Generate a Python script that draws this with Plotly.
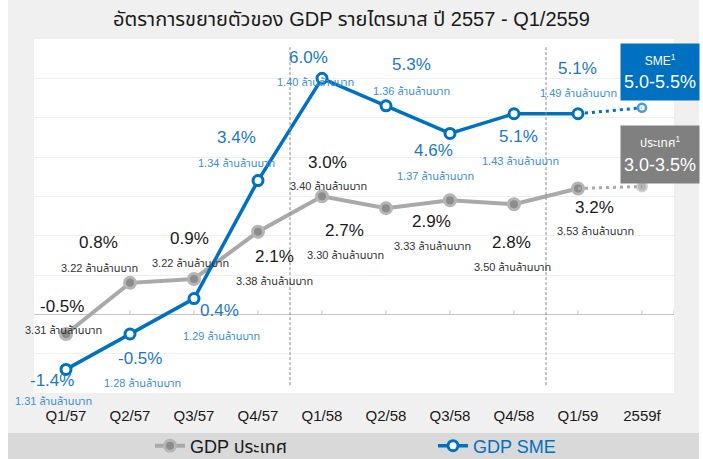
import plotly.graph_objects as go

# ---------------- data ----------------
categories = ["Q1/57", "Q2/57", "Q3/57", "Q4/57", "Q1/58", "Q2/58", "Q3/58", "Q4/58", "Q1/59", "2559f"]
sme_growth = [-1.4, -0.5, 0.4, 3.4, 6.0, 5.3, 4.6, 5.1, 5.1]
sme_value = [1.31, 1.28, 1.29, 1.34, 1.40, 1.36, 1.37, 1.43, 1.49]
gdp_growth = [-0.5, 0.8, 0.9, 2.1, 3.0, 2.7, 2.9, 2.8, 3.2]
gdp_value = [3.31, 3.22, 3.22, 3.38, 3.40, 3.30, 3.33, 3.50, 3.53]
sme_forecast = 5.25
gdp_forecast = 3.25
sme_forecast_label = "5.0-5.5%"
gdp_forecast_label = "3.0-3.5%"
unit = "ล้านล้านบาท"
title = "อัตราการขยายตัวของ GDP รายไตรมาส ปี 2557 - Q1/2559"
name_gdp = "GDP ประเทศ"
name_sme = "GDP SME"

# ---------------- styles / label offsets (pixels) ----------------
BLUE = "#0070c0"
BLUE_TXT = "#1b78c4"
BLUE_SUB = "#3a8fd4"
GRAY = "#a9a9a9"
FONT = "'Liberation Sans', Arial, 'Noto Sans Thai', sans-serif"

sme_pct_off = [(-14, -11), (10, -24), (25, -12), (-22, 43), (-14, 21), (25, 41), (-17, -17), (4, -23), (-1, 45)]
sme_sub_off = [(-13, -32), (12, -49), (27, -37), (-22, 18), (-7, -4), (25, 15), (-15, -43), (6, -47), (0, 21)]
gdp_pct_off = [(-4, 28), (-32, 40), (-5, 40), (16, -25), (5, 34), (-42, -22), (-19, -21), (-3, -38), (16, -19)]
gdp_sub_off = [(-3, 4), (-31, 15), (-4, 16), (16, -49), (6, 10), (-41, -47), (-18, -46), (-2, -63), (17, -43)]

W, H = 703, 459
ML, MR, MT, MB = 34, 29, 39, 66
PW, PH = W - ML - MR, H - MT - MB


def px(xp):
    return (xp - ML) / PW


def py(yp):
    return (H - MB - yp) / PH


fig = go.Figure()

n = len(sme_growth)
# GDP country
fig.add_trace(go.Scatter(
    x=categories[:n], y=gdp_growth, mode="lines+markers", name=name_gdp, legend="legend",
    line=dict(color=GRAY, width=4),
    marker=dict(size=11, color="#8c8c8c", line=dict(color="#b5b5b5", width=3)),
    cliponaxis=False,
))
fig.add_trace(go.Scatter(
    x=[categories[n - 1], categories[n]], y=[gdp_growth[-1], gdp_forecast], mode="lines+markers",
    line=dict(color=GRAY, width=3, dash="3px,4px"),
    marker=dict(size=[0, 10], color="#9a9a9a", line=dict(color="#c0c0c0", width=2)),
    showlegend=False, cliponaxis=False,
))
# SME
fig.add_trace(go.Scatter(
    x=[categories[n - 1], categories[n]], y=[sme_growth[-1], sme_forecast], mode="lines+markers",
    line=dict(color=BLUE, width=3, dash="3px,4px"),
    marker=dict(size=[0, 8], color="white", line=dict(color=BLUE, width=2.5)),
    showlegend=False, cliponaxis=False,
))
fig.add_trace(go.Scatter(
    x=categories[:n], y=sme_growth, mode="lines+markers", name=name_sme, legend="legend2",
    line=dict(color=BLUE, width=3.5),
    marker=dict(size=10, color="white", line=dict(color=BLUE, width=3)),
    cliponaxis=False,
))

ann = []
for i in range(n):
    ann.append(dict(x=categories[i], y=sme_growth[i], xshift=sme_pct_off[i][0], yshift=sme_pct_off[i][1],
                    text="%.1f%%" % sme_growth[i], showarrow=False,
                    font=dict(size=17, color=BLUE_TXT, family=FONT)))
    ann.append(dict(x=categories[i], y=sme_growth[i], xshift=sme_sub_off[i][0], yshift=sme_sub_off[i][1],
                    text="%.2f %s" % (sme_value[i], unit), showarrow=False,
                    font=dict(size=11, color=BLUE_SUB, family=FONT)))
    ann.append(dict(x=categories[i], y=gdp_growth[i], xshift=gdp_pct_off[i][0], yshift=gdp_pct_off[i][1],
                    text="%.1f%%" % gdp_growth[i], showarrow=False,
                    font=dict(size=17, color="#1a1a1a", family=FONT)))
    ann.append(dict(x=categories[i], y=gdp_growth[i], xshift=gdp_sub_off[i][0], yshift=gdp_sub_off[i][1],
                    text="%.2f %s" % (gdp_value[i], unit), showarrow=False,
                    font=dict(size=11, color="#333333", family=FONT)))

# forecast boxes
ann.append(dict(x=categories[n], y=sme_forecast, xshift=18, yshift=36, showarrow=False,
                width=78, height=56, bgcolor=BLUE, borderpad=0,
                text="<span style='font-size:12px'>SME<sup>1</sup></span><br>" + sme_forecast_label,
                font=dict(size=18, color="white", family=FONT)))
ann.append(dict(x=categories[n], y=gdp_forecast, xshift=18, yshift=32, showarrow=False,
                width=78, height=57, bgcolor="#808080", borderpad=0,
                text="<span style='font-size:12px'>ประเทศ<sup>1</sup></span><br>" + gdp_forecast_label,
                font=dict(size=18, color="white", family=FONT)))

shapes = [
    # white border strips
    dict(type="rect", xref="paper", yref="paper", x0=px(0), x1=px(8), y0=py(H), y1=py(0),
         fillcolor="white", line=dict(width=0), layer="below"),
    dict(type="rect", xref="paper", yref="paper", x0=px(699), x1=px(W), y0=py(H), y1=py(0),
         fillcolor="white", line=dict(width=0), layer="below"),
    # legend band
    dict(type="rect", xref="paper", yref="paper", x0=px(8), x1=px(699), y0=py(H), y1=py(433),
         fillcolor="#d9d9d9", line=dict(width=0), layer="below"),
    # period separators
    dict(type="line", xref="x", yref="y", x0=3.5, x1=3.5, y0=-1.8, y1=6.8,
         line=dict(color="#8c8c8c", width=1, dash="3px,2px")),
    dict(type="line", xref="x", yref="y", x0=7.5, x1=7.5, y0=-1.8, y1=6.8,
         line=dict(color="#8c8c8c", width=1, dash="3px,2px")),
]
for i in list(range(1, len(categories))) + [len(categories) - 0.5]:
    shapes.append(dict(type="line", xref="x", yref="y", x0=i, x1=i, ysizemode="pixel", yanchor=0,
                       y0=0, y1=4, line=dict(color="#bfbfbf", width=1), layer="below"))

fig.update_layout(
    width=W, height=H,
    margin=dict(l=ML, r=MR, t=MT, b=MB, autoexpand=False),
    paper_bgcolor="#f0f0f0", plot_bgcolor="white",
    font=dict(family=FONT, color="#1a1a1a"),
    title=dict(text=title, x=0.5, xref="container", y=1 - 19 / H, yanchor="middle",
               font=dict(size=20, color="#1a1a1a", family=FONT)),
    xaxis=dict(type="category", categoryorder="array", categoryarray=categories,
               range=[-0.5, len(categories) - 0.5], showgrid=False, showline=False, ticks="",
               tickfont=dict(size=15, color="#1a1a1a"), ticklabelstandoff=12, zeroline=False),
    yaxis=dict(range=[-2, 7], dtick=1, showticklabels=False, showgrid=True, gridcolor="#efefef",
               gridwidth=1, zeroline=True, zerolinecolor="#c4c4c4", zerolinewidth=1.2, showline=False),
    legend=dict(orientation="h", x=px(150), xanchor="left", y=py(446), yanchor="middle",
                bgcolor="rgba(0,0,0,0)", font=dict(size=18, color="#1a1a1a"), itemwidth=30),
    legend2=dict(orientation="h", x=px(433), xanchor="left", y=py(446), yanchor="middle",
                 bgcolor="rgba(0,0,0,0)", font=dict(size=18, color=BLUE), itemwidth=30),
    annotations=ann,
    shapes=shapes,
    showlegend=True,
)

fig.write_html("out.html", config={"displayModeBar": False},
               post_script="document.body.style.margin='0';document.body.style.overflow='hidden';")
